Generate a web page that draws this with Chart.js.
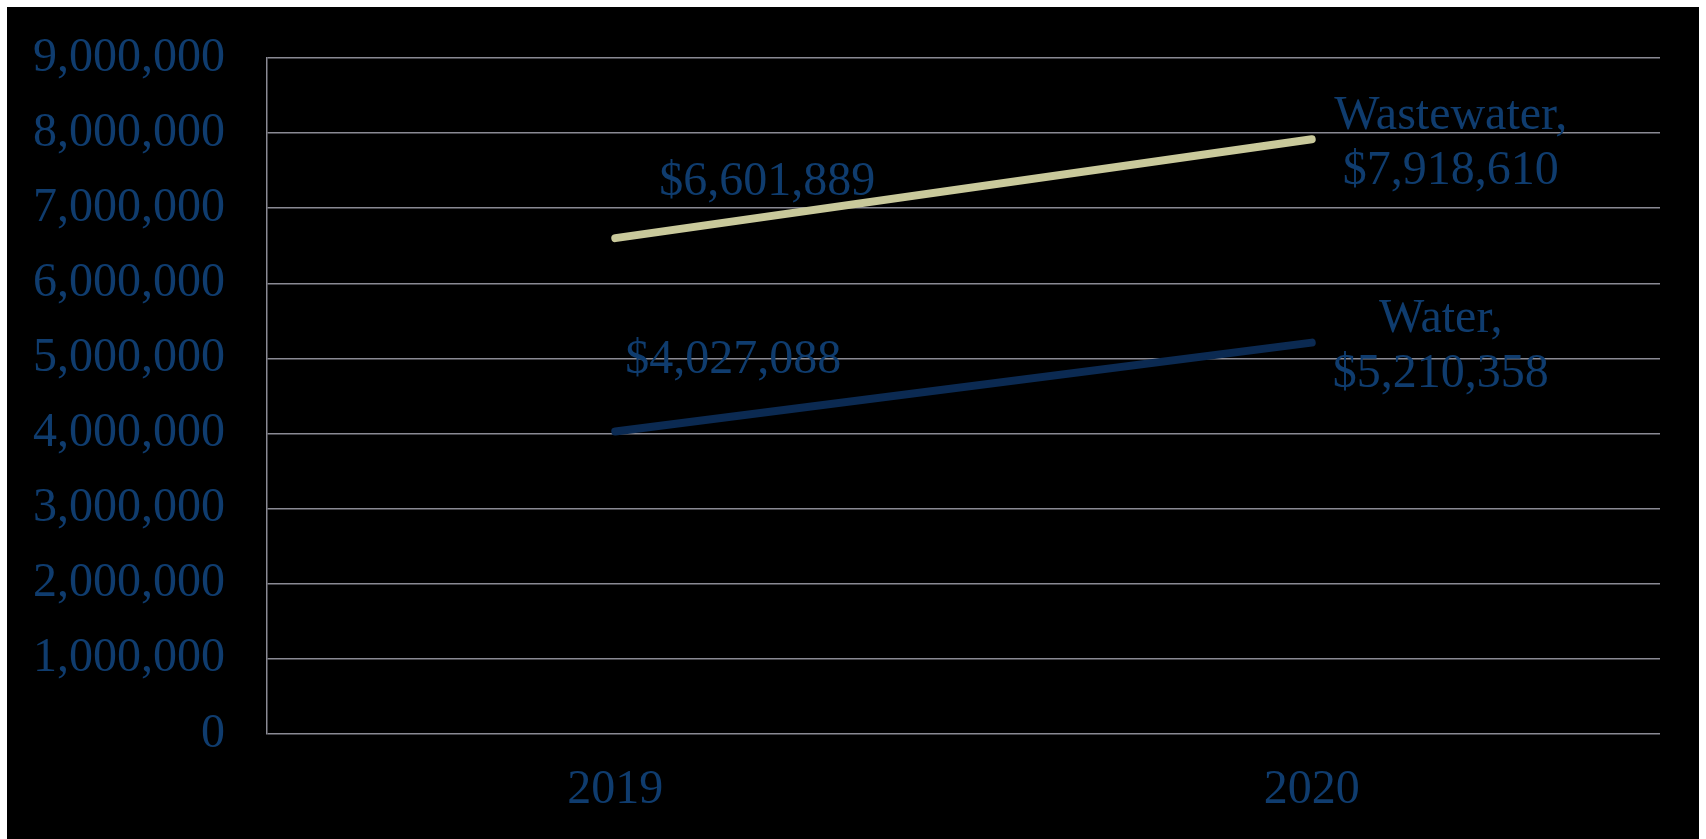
<!DOCTYPE html>
<html>
<head>
<meta charset="utf-8">
<script src="https://cdn.jsdelivr.net/npm/chart.js@4/dist/chart.umd.min.js"></script>
<style>
  html, body { margin: 0; padding: 0; background: #fff; }
  #wrap { width: 1706px; height: 839px; position: relative; }
</style>
</head>
<body>
<div id="wrap"><canvas id="costChart"></canvas></div>
<script>
/* ---------- data ---------- */
const years = ["2019", "2020"];
const wastewater = [6601889, 7918610];
const water = [4027088, 5210358];
const yTicks = [0, 1000000, 2000000, 3000000, 4000000, 5000000, 6000000, 7000000, 8000000, 9000000];

const TEXT_BLUE = "#0f3c6e";
const FONT = "'Liberation Serif', 'Times New Roman', serif";

const money = v => "$" + v.toLocaleString("en-US");

// label offsets per dataset / point (relative to the point)
const labelSpots = [
  [{ dx: 152, dy: -56, lines: d => [money(d)] }, { dx: 139, dy: -23, lines: d => ["Wastewater,", money(d)] }],
  [{ dx: 118, dy: -71, lines: d => [money(d)] }, { dx: 129, dy: -23, lines: d => ["Water,", money(d)] }]
];

/* ---------- black panel ---------- */
const panel = {
  id: "panel",
  beforeDraw(chart) {
    const ctx = chart.ctx;
    ctx.save();
    ctx.fillStyle = "#000";
    ctx.fillRect(7, 7, 1692, 832);
    ctx.restore();
  }
};

/* ---------- data labels ---------- */
const valueLabels = {
  id: "valueLabels",
  afterDatasetsDraw(chart) {
    const ctx = chart.ctx;
    ctx.save();
    ctx.font = "48px " + FONT;
    ctx.fillStyle = TEXT_BLUE;
    ctx.textAlign = "center";
    ctx.textBaseline = "middle";
    chart.data.datasets.forEach((ds, di) => {
      chart.getDatasetMeta(di).data.forEach((pt, i) => {
        const spot = labelSpots[di][i];
        spot.lines(ds.data[i]).forEach((txt, li) => {
          ctx.fillText(txt, pt.x + spot.dx, pt.y + spot.dy + li * 55);
        });
      });
    });
    ctx.restore();
  }
};

new Chart(document.getElementById("costChart"), {
  type: "line",
  data: {
    labels: years,
    datasets: [
      {
        label: "Wastewater",
        data: wastewater,
        borderColor: "#c9c99b",
        borderWidth: 8,
        borderCapStyle: "round",
        pointRadius: 0,
        tension: 0
      },
      {
        label: "Water",
        data: water,
        borderColor: "#0b2a52",
        borderWidth: 8,
        borderCapStyle: "round",
        pointRadius: 0,
        tension: 0
      }
    ]
  },
  options: {
    responsive: true,
    maintainAspectRatio: false,
    animation: false,
    layout: { padding: { top: 58, right: 46, bottom: 0, left: 0 } },
    plugins: {
      legend: { display: false },
      tooltip: { enabled: false }
    },
    scales: {
      x: {
        offset: true,
        grid: { display: false, drawTicks: false },
        border: { display: false },
        ticks: {
          color: TEXT_BLUE,
          font: { family: FONT, size: 48 },
          padding: 28,
          maxRotation: 0
        },
        afterFit(scale) {
          scale.height = 105;
          scale.paddingLeft = 0;
          scale.paddingRight = 0;
        }
      },
      y: {
        min: 0,
        max: 9000000,
        afterBuildTicks(scale) { scale.ticks = yTicks.map(v => ({ value: v })); },
        grid: { color: "#8a8a94", lineWidth: 1.5, drawTicks: false },
        border: { display: true, color: "#8a8a94", width: 1.5 },
        ticks: {
          color: TEXT_BLUE,
          font: { family: FONT, size: 48 },
          padding: 42,
          callback: v => v.toLocaleString("en-US")
        },
        afterFit(scale) {
          scale.width = 267;
          scale.paddingTop = 0;
          scale.paddingBottom = 0;
        }
      }
    }
  },
  plugins: [panel, valueLabels]
});
</script>
</body>
</html>
